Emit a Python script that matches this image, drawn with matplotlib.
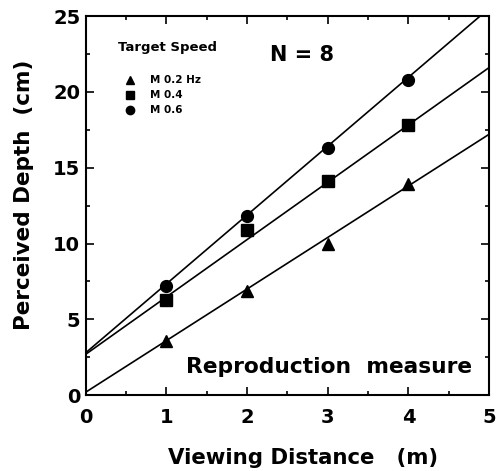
import matplotlib
matplotlib.use("Agg")
import matplotlib.pyplot as plt
import numpy as np
from matplotlib.ticker import MultipleLocator

distance = [1, 2, 3, 4]
depth_02 = [3.6, 6.9, 10.0, 13.9]
depth_04 = [6.3, 10.9, 14.1, 17.8]
depth_06 = [7.2, 11.8, 16.3, 20.8]
# regression fits (intercept, slope)
fit_02 = (0.2, 3.4)
fit_04 = (2.7, 3.78)
fit_06 = (2.8, 4.54)
labels = ["M 0.2 Hz", "M 0.4", "M 0.6"]

plt.rcParams['font.family'] = ['DejaVu Sans']
fig = plt.figure(figsize=(4.96, 4.71), dpi=100)
ax = fig.add_axes([0.173, 0.161, 0.813, 0.805])

xs = np.array([0, 5])
for (b, m), ys, mk, ms in [(fit_02, depth_02, '^', 9), (fit_04, depth_04, 's', 8.5), (fit_06, depth_06, 'o', 8.5)]:
    ax.plot(xs, b + m * xs, color='black', lw=1.2)
    ax.plot(distance, ys, marker=mk, color='black', ls='none', ms=ms)

ax.set_xlim(0, 5)
ax.set_ylim(0, 25)
ax.xaxis.set_major_locator(MultipleLocator(1))
ax.xaxis.set_minor_locator(MultipleLocator(0.5))
ax.yaxis.set_major_locator(MultipleLocator(5))
ax.yaxis.set_minor_locator(MultipleLocator(2.5))
ax.tick_params(which='both', direction='in', top=True, right=True, width=1.2)
ax.tick_params(which='major', length=6, labelsize=14)
ax.tick_params(axis='x', which='major', pad=9)
ax.tick_params(axis='y', which='major', pad=4)
ax.tick_params(which='minor', length=3)
for lab in ax.get_xticklabels() + ax.get_yticklabels():
    lab.set_fontweight('bold')
for s in ax.spines.values():
    s.set_linewidth(1.5)

fig.text(303 / 496, 1 - 458 / 471, "Viewing Distance   (m)", fontsize=15.3, fontweight='bold', ha='center', va='center')
fig.text(24 / 496, 1 - 195 / 471, "Perceived Depth  (cm)", fontsize=15.5, fontweight='bold', ha='center', va='center', rotation=90)

ax.text(0.397, 22.9, "Target Speed", fontsize=9.5, fontweight='bold', va='center')
ax.text(2.28, 22.45, "N = 8", fontsize=15, fontweight='bold', va='center')
mk_list = ['^', 's', 'o']
ys_leg = [20.8, 19.8, 18.8]
for mk, lab, yy in zip(mk_list, labels, ys_leg):
    ax.plot([0.545], [yy], marker=mk, color='black', ms=6, ls='none', clip_on=False)
    ax.text(0.79, yy, lab, fontsize=7.5, fontweight='bold', va='center')

fig.text(472 / 496, 1 - 367 / 471, "Reproduction  measure", fontsize=15.7, fontweight='bold', ha='right', va='center')

fig.savefig("out.png", dpi=100)
